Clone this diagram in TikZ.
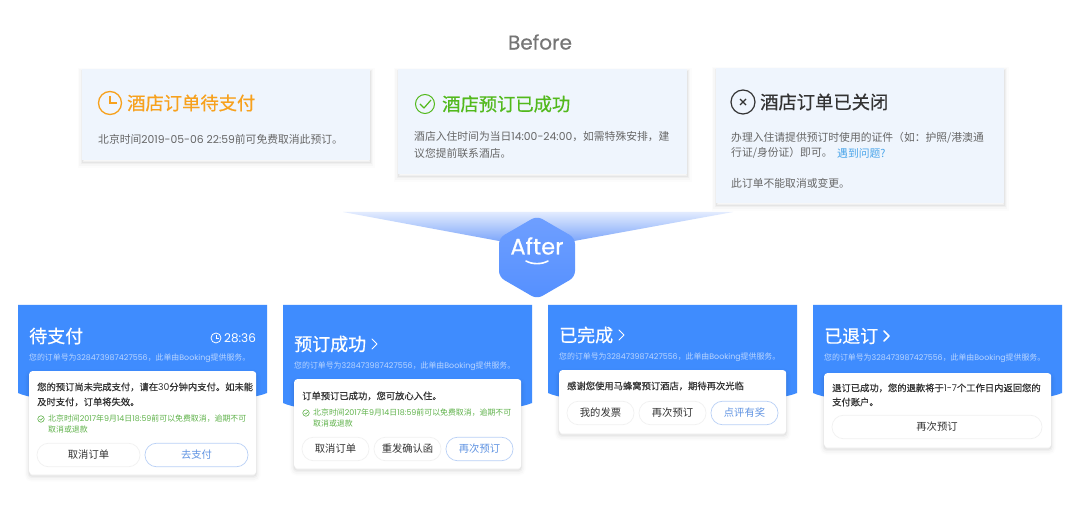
\documentclass[tikz,border=0pt]{standalone}
\usepackage{fontspec}
\setmainfont{Noto Sans CJK SC}
\newfontfamily\medfont[FakeBold=0.6]{Noto Sans CJK SC}
\newfontfamily\latfont{Poppins}
\newfontfamily\latmedfont[FakeBold=0.5]{Poppins}
\usepackage{tikz}
\usetikzlibrary{positioning}

\definecolor{panelbg}{HTML}{EFF5FD}
\definecolor{headblue}{HTML}{3F8CFE}
\definecolor{subblue}{HTML}{BBD6FF}
\definecolor{payorange}{HTML}{F7A11D}
\definecolor{okgreen}{HTML}{52B91C}
\definecolor{notegreen}{HTML}{5FB24A}
\definecolor{darktext}{HTML}{333333}
\definecolor{greytext}{HTML}{666666}
\definecolor{linkblue}{HTML}{4AA5EA}
\definecolor{btnblue}{HTML}{5F93E2}
\definecolor{btnedge}{HTML}{B9D0F6}
\definecolor{btngrey}{HTML}{F1F1F1}
\definecolor{fantop}{HTML}{E2EBFE}
\definecolor{fanbottom}{HTML}{7EA7FA}
\definecolor{hextop}{HTML}{6F9FFF}
\definecolor{hexbottom}{HTML}{5590FF}

\newcommand{\lat}[1]{{\latfont\fontsize{1em}{1em}\selectfont #1}}

\tikzset{
    softshadow/.style={
        preaction={draw=black, draw opacity=.01, line width=9pt, transform canvas={yshift=-3pt}},
        preaction={draw=black, draw opacity=.02, line width=6pt, transform canvas={yshift=-3pt}},
        preaction={draw=black, draw opacity=.03, line width=3pt, transform canvas={yshift=-2.5pt}},
        preaction={draw=black, draw opacity=.04, line width=1pt, transform canvas={yshift=-2pt}}},
    panel/.style={fill=panelbg, softshadow, anchor=north west, inner sep=0pt},
    sheet/.style={fill=white, rounded corners=3pt, softshadow, anchor=north west, inner sep=0pt, minimum width=227pt},
    txt/.style={anchor=west, inner sep=0pt, text=#1},
    txt/.default=greytext,
    bigtitle/.style={txt=#1, font=\fontsize{18.3}{20}\medfont},
    bodytxt/.style={txt=greytext, font=\fontsize{10.8}{12}\selectfont},
    headtitle/.style={txt=white, font=\fontsize{18}{20}\medfont},
    subtxt/.style={txt=subblue, font=\fontsize{7.9}{9}\selectfont},
    sheettxt/.style={txt=darktext, font=\fontsize{9.3}{11}\medfont},
    notetxt/.style={txt=notegreen, font=\fontsize{7.9}{9}\selectfont},
    pill/.style={draw=btngrey, line width=.7pt, fill=white, rounded corners=11.5pt, inner sep=0pt,
        minimum height=23.5pt, text=darktext, font=\fontsize{10.3}{12}\selectfont},
    bluepill/.style={pill, draw=btnedge, text=btnblue},
    chevron/.style={draw=white, line width=1pt, line cap=round, line join=round},
    ring/.style={circle, draw=#1, inner sep=0pt, fill=none},
    tick/.style={draw=notegreen, line width=.6pt, line join=round}
}

\begin{document}
\begin{tikzpicture}[x=1pt, y=-1pt]
    \useasboundingbox (0,0) rectangle (1080,510);
    \fill[white] (0,0) rectangle (1080,510);

    % before
    \node[text=greytext!90, font=\fontsize{20}{24}\latmedfont] at (540,42) (before) {Before};

    \node[panel, minimum width=288pt, minimum height=91pt]  at (82,69)  (panelA) {};
    \node[panel, minimum width=289pt, minimum height=105pt] at (398,69) (panelB) {};
    \node[panel, minimum width=288pt, minimum height=135pt] at (716,68) (panelC) {};

    \node[ring=payorange, line width=1.3pt, minimum size=23pt] at (110,103) (iconA) {};
    \draw[payorange, line width=1.2pt] (110,96) -- (110,103) -- (117,103);
    \node[bigtitle=payorange] at (127,103) (titleA) {酒店订单待支付};
    \node[bodytxt] at (98,139) (textA) {北京时间\lat{2019-05-06 22:59}前可免费取消此预订。};

    \node[ring=okgreen, line width=1pt, minimum size=19pt] at (425,104) (iconB) {};
    \draw[okgreen, line width=1.2pt, line join=round] (420,104) -- (424,108) -- (431,100);
    \node[bigtitle=okgreen] at (442,104) (titleB) {酒店预订已成功};
    \node[bodytxt] at (414,137) (textB1) {酒店入住时间为当日\lat{14:00-24:00}，如需特殊安排，建};
    \node[bodytxt] at (414,153) (textB2) {议您提前联系酒店。};

    \node[ring=darktext, line width=1.2pt, minimum size=24pt] at (743,102) (iconC) {};
    \draw[darktext, line width=1.2pt] (740,99) -- (746,105) (746,99) -- (740,105);
    \node[bigtitle=darktext] at (760,102) (titleC) {酒店订单已关闭};
    \node[bodytxt] at (731,138) (textC1) {办理入住请提供预订时使用的证件（如：护照/港澳通};
    \node[bodytxt] at (731,153) (textC2) {行证/身份证）即可。};
    \node[bodytxt, text=linkblue] at (837,153) (textC3) {遇到问题?};
    \node[bodytxt] at (731,183) (textC4) {此订单不能取消或变更。};

    % after
    \shade[top color=fantop, bottom color=fanbottom]
        (343,212) -- (733,212) -- (574,241) -- (499,241) -- cycle;
    \path[rounded corners=6pt, top color=hextop, bottom color=hexbottom]
        (537,216) -- (575,238) -- (575,277) -- (537,299) -- (499,277) -- (499,238) -- cycle;
    \node[text=white, font=\fontsize{22.5}{24}\latmedfont] at (537,246) (after) {After};
    \coordinate (smileL) at (526,261);
    \coordinate (smileR) at (548,261);
    \draw[white, line width=1.6pt, line cap=round] (smileL) .. controls (532,264.5) and (542,264.5) .. (smileR);

    % card one
    \fill[headblue] (18,305) -- (267,305) -- (267,393) .. controls (258,397) and (240,399) .. (220,399) -- (60,399) .. controls (40,399) and (27,397) .. (18,393) -- cycle;
    \node[headtitle] at (29,336) (nameA) {待支付};
    \node[ring=white, line width=.8pt, minimum size=10pt] at (216,338) (clockA) {};
    \draw[white, line width=.7pt] (216,335) -- (216,338.5) -- (218.5,338.5);
    \node[txt=white, font=\fontsize{12}{14}\latfont] at (224,338) (timeA) {28:36};
    \node[subtxt] at (29,358) (subA) {您的订单号为\lat{328473987427556}，此单由\lat{Booking}提供服务。};
    \node[sheet, minimum height=103pt] at (29,371) (sheetA) {};
    \node[sheettxt] at (37,387) (msgA1) {您的预订尚未完成支付，请在\lat{30}分钟内支付。如未能};
    \node[sheettxt] at (37,402) (msgA2) {及时支付，订单将失效。};
    \node[ring=notegreen, line width=.6pt, minimum size=6.5pt] at (41,419) (okA) {};
    \draw[tick] (39.5,419) -- (40.7,420.2) -- (42.7,418);
    \node[notetxt] at (48,419) (noteA1) {北京时间\lat{2017}年\lat{9}月\lat{14}日\lat{18:59}前可以免费取消，逾期不可};
    \node[notetxt] at (48,429) (noteA2) {取消或退款};
    \node[pill, minimum width=103pt] at (88.5,455) (btnA1) {取消订单};
    \node[bluepill, minimum width=103pt] at (196.5,455) (btnA2) {去支付};

    % card two
    \fill[headblue] (283,305) -- (532,305) -- (532,403) .. controls (523,407) and (505,409) .. (485,409) -- (325,409) .. controls (305,409) and (292,407) .. (283,403) -- cycle;
    \node[headtitle] at (294,344) (nameB) {预订成功};
    \draw[chevron] (372,339) -- (377,344) -- (372,349);
    \node[subtxt] at (294,366) (subB) {您的订单号为\lat{328473987427556}，此单由\lat{Booking}提供服务。};
    \node[sheet, minimum height=89pt] at (294,379) (sheetB) {};
    \node[sheettxt] at (302,396) (msgB) {订单预订已成功，您可放心入住。};
    \node[ring=notegreen, line width=.6pt, minimum size=6.5pt] at (306,413) (okB) {};
    \draw[tick] (304.5,413) -- (305.7,414.2) -- (307.7,412);
    \node[notetxt] at (313,413) (noteB1) {北京时间\lat{2017}年\lat{9}月\lat{14}日\lat{18:59}前可以免费取消，逾期不可};
    \node[notetxt] at (313,423) (noteB2) {取消或退款};
    \node[pill, minimum width=67pt] at (335.5,449) (btnB1) {取消订单};
    \node[pill, minimum width=67pt] at (407.5,449) (btnB2) {重发确认函};
    \node[bluepill, minimum width=67pt] at (479.5,449) (btnB3) {再次预订};

    % card three
    \fill[headblue] (548,305) -- (797,305) -- (797,393) .. controls (788,397) and (770,399) .. (750,399) -- (590,399) .. controls (570,399) and (557,397) .. (548,393) -- cycle;
    \node[headtitle] at (559,335) (nameC) {已完成};
    \draw[chevron] (619,330) -- (624,335) -- (619,340);
    \node[subtxt] at (559,357) (subC) {您的订单号为\lat{328473987427556}，此单由\lat{Booking}提供服务。};
    \node[sheet, minimum height=63pt] at (559,370) (sheetC) {};
    \node[sheettxt] at (567,386) (msgC) {感谢您使用马蜂窝预订酒店，期待再次光临};
    \node[pill, minimum width=67pt] at (600.5,413) (btnC1) {我的发票};
    \node[pill, minimum width=67pt] at (672.5,413) (btnC2) {再次预订};
    \node[bluepill, minimum width=67pt] at (744.5,413) (btnC3) {点评有奖};

    % card four
    \fill[headblue] (813,305) -- (1062,305) -- (1062,393) .. controls (1053,397) and (1035,399) .. (1015,399) -- (855,399) .. controls (835,399) and (822,397) .. (813,393) -- cycle;
    \node[headtitle] at (824,336) (nameD) {已退订};
    \draw[chevron, line width=1.6pt] (884,331) -- (889,336) -- (884,341);
    \node[subtxt] at (824,358) (subD) {您的订单号为\lat{328473987427556}，此单由\lat{Booking}提供服务。};
    \node[sheet, minimum height=74pt] at (824,373) (sheetD) {};
    \node[sheettxt] at (832,388) (msgD1) {退订已成功，您的退款将于\lat{1-7}个工作日内返回您的};
    \node[sheettxt] at (832,402) (msgD2) {支付账户。};
    \node[pill, minimum width=210pt] at (937,427) (btnD) {再次预订};
\end{tikzpicture}
\end{document}
